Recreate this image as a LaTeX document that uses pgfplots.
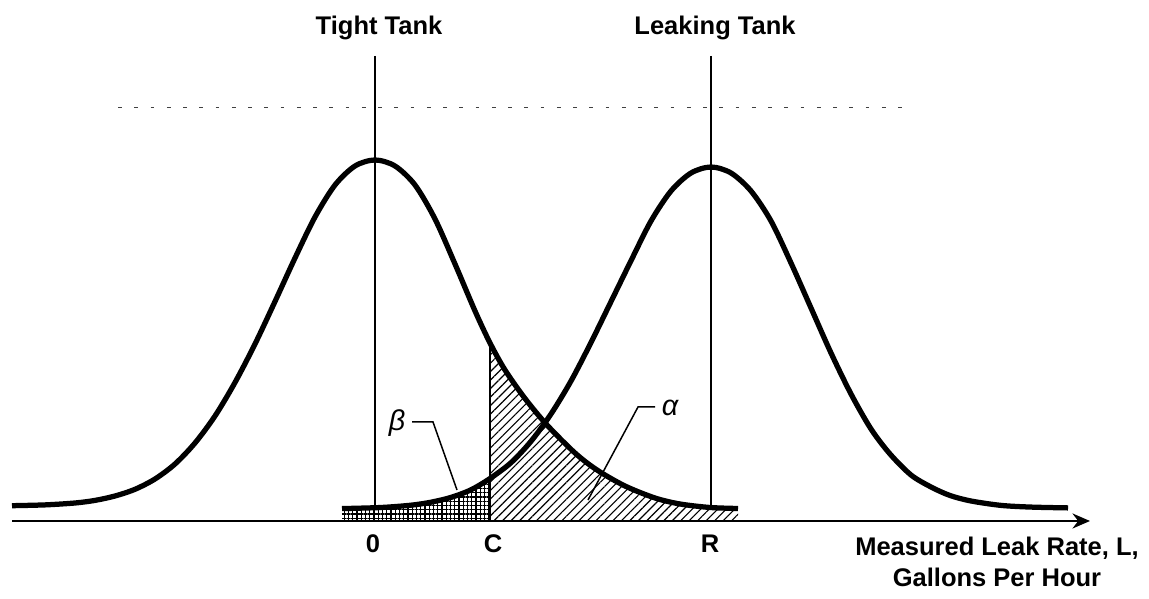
\documentclass[border=0pt]{standalone}
\usepackage{fontspec}
\setmainfont{Liberation Sans}
\usepackage{pgfplots}
\pgfplotsset{compat=1.18}
\usetikzlibrary{patterns.meta,arrows.meta}
\newcommand{\lbl}{\fontsize{10.2}{12.4}\selectfont\bfseries}

\begin{document}
\begin{tikzpicture}
\begin{axis}[
  x=0.4pt, y=0.4pt,
  xmin=0, xmax=1149, ymin=-78, ymax=521,
  hide axis, clip=false,
]
% fixed picture frame (invisible)
\path (axis cs:0,-78) rectangle (axis cs:1149,521);

% beta region (under leaking-tank curve, left of C)
\addplot[draw=none, pattern={Hatch[angle=0,distance=1.7pt,line width=0.55pt]}]
  coordinates {(342,0)(342,12.4)(381,13.5)(411,15.8)(431,18.8)(451,23.6)(471,31.2)(490,42.5)(490,0)} \closedcycle;
% alpha region (under tight-tank curve, right of C)
\addplot[draw=none, pattern={Lines[angle=45,distance=2.4pt,line width=0.45pt]}]
  coordinates {(490,0)(490,178)(505,151)(525,122.5)(547,96)(575,68)(597,51)(625,35)(655,23)(680,17)(710,13.5)(738,12.5)(738,0)} \closedcycle;

% faint dashed line
\addplot[black!75, line width=0.4pt, dash pattern=on 1.5pt off 5pt] coordinates {(118,413)(906,413)};

% vertical lines
\addplot[black, line width=0.8pt] coordinates {(375,465)(375,14)};
\addplot[black, line width=0.8pt] coordinates {(711,465)(711,13)};
\addplot[black, line width=0.8pt] coordinates {(490,178)(490,0)};

% tight tank curve
\addplot[black, line width=2.1pt, smooth, tension=0.5] coordinates {
(12,15.3)(45,16.1)(75,18)(95,20.6)(115,25)(135,31.7)(155,42)(175,57)(195,78)(215,105)
(235,138.5)(255,177)(275,219.5)(295,263)(315,304)(335,336)(355,355)(375,361)
(395,355)(415,336)(435,302)(455,257)(475,210)(490,178)(505,151)(525,122.5)(547,96)
(575,68)(597,51)(625,35)(655,23)(680,17)(710,13.5)(738,12.5)};

% leaking tank curve
\addplot[black, line width=2.1pt, smooth, tension=0.5] coordinates {
(342,12.4)(381,13.5)(411,15.8)(431,18.8)(451,23.6)(471,31.2)(490,42.5)(511,58.3)(531,79.7)
(551,107)(571,140)(591,178.5)(611,219.4)(631,260.3)(651,300)(671,330)(691,348)(711,354)
(731,348)(751,330)(771,300)(791,258)(811,213)(831,168)(851,127)(871,92)(890,67)
(911,46)(931,34)(950,25.5)(971,20)(1001,15.6)(1031,13.9)(1068,13.1)};

% horizontal axis with arrow
\addplot[black, line width=1pt, -{Stealth[length=7pt,width=6pt]}] coordinates {(12,0)(1090,0)};

% leader lines
\addplot[black, line width=0.6pt] coordinates {(412,99)(433,99)(457,31)};
\addplot[black, line width=0.6pt] coordinates {(655,114)(638,114)(588,21)};

\node[inner sep=0pt] at (axis cs:397,98) {\fontsize{11.5}{13}\selectfont\itshape β};
\node[inner sep=0pt] at (axis cs:670,113) {\fontsize{11.5}{13}\selectfont\itshape α};

\node[anchor=base, inner sep=0pt] at (axis cs:379,486) {\lbl Tight Tank};
\node[anchor=base, inner sep=0pt] at (axis cs:715,486) {\lbl Leaking Tank};

\node[anchor=base, inner sep=0pt] at (axis cs:373,-32) {\lbl 0};
\node[anchor=base, inner sep=0pt] at (axis cs:493,-32) {\lbl C};
\node[anchor=base, inner sep=0pt] at (axis cs:710,-32) {\lbl R};

\node[anchor=base, inner sep=0pt] at (axis cs:997,-35) {\lbl Measured Leak Rate, L,};
\node[anchor=base, inner sep=0pt] at (axis cs:997,-66) {\lbl Gallons Per Hour};
\end{axis}
\end{tikzpicture}
\end{document}
